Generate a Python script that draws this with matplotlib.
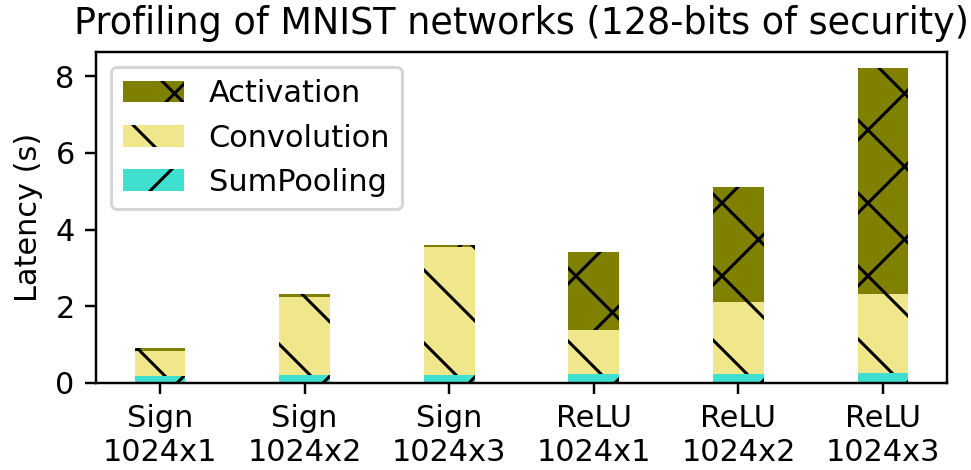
import numpy as np
import matplotlib
matplotlib.use("Agg")
import matplotlib.pyplot as plt

# latency breakdown per network (seconds)
networks = ["Sign\n1024x1", "Sign\n1024x2", "Sign\n1024x3",
            "ReLU\n1024x1", "ReLU\n1024x2", "ReLU\n1024x3"]
sumpooling = [0.17, 0.21, 0.21, 0.23, 0.23, 0.25]
convolution = [0.66, 2.04, 3.34, 1.14, 1.89, 2.06]
activation = [0.07, 0.07, 0.06, 2.04, 2.99, 5.91]

DPI = 219
W, H = 971, 470
# extra margin on the left/top, cropped off afterwards (shifts the hatch phase)
OX, OY = 8, 16

fig = plt.figure(figsize=((W + OX) / DPI, (H + OY) / DPI), dpi=DPI)
ax = fig.add_axes([(OX + 96) / (W + OX), 87 / (H + OY),
                   851 / (W + OX), 331 / (H + OY)])

x = np.arange(len(networks))
w = 0.35
sp = np.array(sumpooling)
cv = np.array(convolution)
ac = np.array(activation)

b1 = ax.bar(x, sp, w, color="#40E0D0", hatch="/", label="SumPooling")
b2 = ax.bar(x, cv, w, bottom=sp, color="#F0E68C", hatch="\\", label="Convolution")
b3 = ax.bar(x, ac, w, bottom=sp + cv, color="#808000", hatch="x", label="Activation")

ax.set_xticks(x)
ax.set_xticklabels(networks)
ax.set_ylabel("Latency (s)")
ax.set_title("Profiling of MNIST networks (128-bits of security)", fontsize=12)
ax.legend([b3, b2, b1], ["Activation", "Convolution", "SumPooling"], loc="upper left")

fig.canvas.draw()
img = np.asarray(fig.canvas.buffer_rgba())[OY:, OX:]
plt.imsave("out.png", img)
